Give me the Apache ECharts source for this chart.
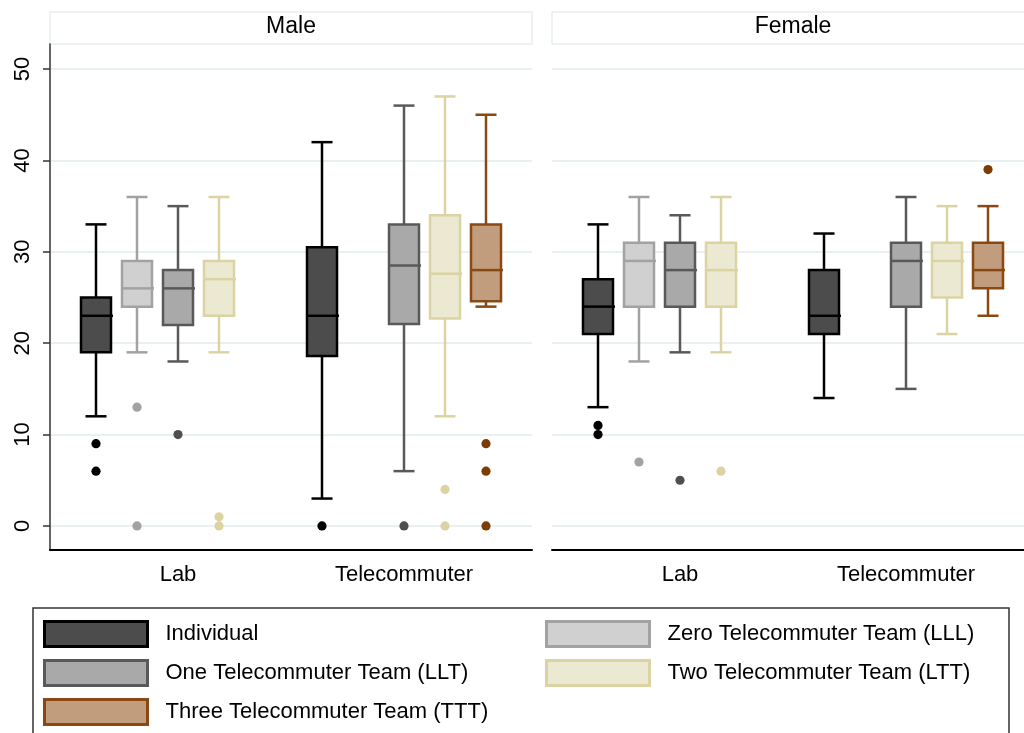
<!DOCTYPE html>
<html><head><meta charset="utf-8">
<script src="https://cdn.jsdelivr.net/npm/echarts@6/dist/echarts.min.js"></script>
<style>html,body{margin:0;padding:0;background:#fff}#chart{width:1024px;height:733px}</style>
</head><body><div id="chart"></div>
<script>
// ---------- data ----------
const panels = ['Male', 'Female'];
const conditions = ['Lab', 'Telecommuter'];
const groups = ['Individual', 'Zero Telecommuter Team (LLL)', 'One Telecommuter Team (LLT)',
                'Two Telecommuter Team (LTT)', 'Three Telecommuter Team (TTT)'];
const yTicks = [0, 10, 20, 30, 40, 50];
const xTicks = [0, 1];

// box rows: [panel, condition, lowerWhisker, q1, median, q3, upperWhisker]
const individualBoxes = [[0, 0, 12, 19, 23, 25, 33], [0, 1, 3, 18.6, 23, 30.5, 42],
                         [1, 0, 13, 21, 24, 27, 33], [1, 1, 14, 21, 23, 28, 32]];
const lllBoxes = [[0, 0, 19, 24, 26, 29, 36], [1, 0, 18, 24, 29, 31, 36]];
const lltBoxes = [[0, 0, 18, 22, 26, 28, 35], [0, 1, 6, 22.1, 28.5, 33, 46],
                  [1, 0, 19, 24, 28, 31, 34], [1, 1, 15, 24, 29, 31, 36]];
const lttBoxes = [[0, 0, 19, 23, 27, 29, 36], [0, 1, 12, 22.7, 27.6, 34, 47],
                  [1, 0, 19, 24, 28, 31, 36], [1, 1, 21, 25, 29, 31, 35]];
const tttBoxes = [[0, 1, 24, 24.6, 28, 33, 45], [1, 1, 23, 26, 28, 31, 35]];

// outlier rows: [panel, condition, value]
const individualOutliers = [[0, 0, 9], [0, 0, 6], [0, 1, 0], [1, 0, 11], [1, 0, 10]];
const lllOutliers = [[0, 0, 13], [0, 0, 0], [1, 0, 7]];
const lltOutliers = [[0, 0, 10], [0, 1, 0], [1, 0, 5]];
const lttOutliers = [[0, 0, 1], [0, 0, 0], [0, 1, 4], [0, 1, 0], [1, 0, 6]];
const tttOutliers = [[0, 1, 9], [0, 1, 6], [0, 1, 0], [1, 1, 39]];

// ---------- style ----------
const FONT = '"Liberation Sans", Arial, sans-serif';
const colors = [
  {fill: '#4c4c4c', border: '#000000', dot: '#000000'},
  {fill: '#d0d0d0', border: '#a2a2a2', dot: '#a2a2a2'},
  {fill: '#a9a9a9', border: '#595959', dot: '#4f4f4f'},
  {fill: '#ebe9d2', border: '#dbd4a2', dot: '#dbd4a2'},
  {fill: '#c29d7d', border: '#8a4812', dot: '#7c3d02'}
];
const boxData = [individualBoxes, lllBoxes, lltBoxes, lttBoxes, tttBoxes];
const outlierData = [individualOutliers, lllOutliers, lltOutliers, lttOutliers, tttOutliers];

const SLOT = 41 / 226, BOX_W = 30 / 226, CAP_W = 21 / 226, PAD = 128 / 226;
const GRIDS = [{left: 50, top: 44, width: 482, height: 506}, {left: 552, top: 44, width: 482, height: 506}];
const Y_MIN = -2.63, Y_MAX = 52.74;
const LW = 2.5;

function boxRenderer(slot, c) {
  return function (params, api) {
    const cond = api.value(0);
    const unit = api.size([1, 0])[0];
    const dx = (slot - 2) * SLOT * unit;
    const half = BOX_W * unit / 2, cap = CAP_W * unit / 2;
    const pts = [1, 2, 3, 4, 5].map(i => api.coord([cond, api.value(i)]));
    const x = pts[0][0] + dx;
    const yLw = pts[0][1], yQ1 = pts[1][1], yMed = pts[2][1], yQ3 = pts[3][1], yUw = pts[4][1];
    const line = (x1, y1, x2, y2) => ({type: 'line', shape: {x1, y1, x2, y2},
      style: {stroke: c.border, lineWidth: LW}});
    return {type: 'group', children: [
      line(x, yQ3, x, yUw), line(x - cap, yUw, x + cap, yUw),
      line(x, yQ1, x, yLw), line(x - cap, yLw, x + cap, yLw),
      {type: 'rect', shape: {x: x - half, y: yQ3, width: 2 * half, height: yQ1 - yQ3},
       style: {fill: c.fill, stroke: c.border, lineWidth: LW}},
      line(x - half, yMed, x + half + 2, yMed)
    ]};
  };
}
function dotRenderer(slot, c) {
  return function (params, api) {
    const unit = api.size([1, 0])[0];
    const p = api.coord([api.value(0), api.value(1)]);
    return {type: 'circle', shape: {cx: p[0] + (slot - 2) * SLOT * unit, cy: p[1], r: 4.6},
            style: {fill: c.dot}};
  };
}

const grid = [], xAxis = [], yAxis = [], series = [];
panels.forEach((name, p) => {
  grid.push(Object.assign({containLabel: false, outerBoundsMode: 'none'}, GRIDS[p]));
  xAxis.push({gridIndex: p, type: 'value', min: -PAD, max: 1 + PAD,
    axisLine: {show: true, onZero: false, lineStyle: {color: '#000', width: 2}},
    axisTick: {show: false}, splitLine: {show: false},
    axisLabel: {customValues: xTicks, formatter: v => conditions[Math.round(v)],
      fontSize: 22, color: '#000', margin: 14, fontFamily: FONT}});
  yAxis.push({gridIndex: p, type: 'value', min: Y_MIN, max: Y_MAX,
    axisLine: {show: p === 0, onZero: false, lineStyle: {color: '#333', width: 1.5}},
    axisTick: {show: p === 0, length: 7, customValues: yTicks, lineStyle: {color: '#333', width: 1.5}},
    axisLabel: {show: p === 0, customValues: yTicks, rotate: 90, fontSize: 22, color: '#000',
      margin: 16, fontFamily: FONT},
    splitLine: {show: true, lineStyle: {color: '#e9f0f2', width: 2}}});
  groups.forEach((g, gi) => {
    series.push({type: 'custom', name: g, xAxisIndex: p, yAxisIndex: p, z: 2,
      renderItem: boxRenderer(gi, colors[gi]), encode: {x: 0, y: [1, 2, 3, 4, 5]},
      itemStyle: {color: colors[gi].fill},
      data: boxData[gi].filter(r => r[0] === p).map(r => r.slice(1))});
    series.push({type: 'custom', name: g, xAxisIndex: p, yAxisIndex: p, z: 3,
      renderItem: dotRenderer(gi, colors[gi]), encode: {x: 0, y: 1},
      itemStyle: {color: colors[gi].fill},
      data: outlierData[gi].filter(r => r[0] === p).map(r => r.slice(1))});
  });
});

const legendItem = gi => ({name: groups[gi], icon: 'rect',
  itemStyle: {color: colors[gi].fill, borderColor: colors[gi].border, borderWidth: 3}});
const legendBase = {orient: 'vertical', top: 620, padding: 0, itemWidth: 103, itemHeight: 25, itemGap: 11,
  selectedMode: false,
  textStyle: {fontSize: 22, color: '#000', fontFamily: FONT, padding: [0, 0, 0, 13]}};

const graphic = [
  {type: 'rect', shape: {x: 33, y: 608, width: 976, height: 140}, style: {fill: 'none', stroke: '#333', lineWidth: 1.5}}
];
panels.forEach((name, p) => {
  const g = GRIDS[p];
  graphic.push({type: 'rect', shape: {x: g.left, y: 12, width: g.width, height: 32},
    style: {fill: '#fff', stroke: '#e8eff1', lineWidth: 1.5}});
  graphic.push({type: 'text', x: g.left + g.width / 2, y: 27,
    style: {text: name, fill: '#000', font: '23px ' + FONT, align: 'center', verticalAlign: 'middle'}});
});

const chart = echarts.init(document.getElementById('chart'), null, {renderer: 'canvas'});
chart.setOption({
  animation: false,
  backgroundColor: '#fff',
  grid, xAxis, yAxis, series, graphic,
  legend: [
    Object.assign({left: 43, data: [0, 2, 4].map(legendItem)}, legendBase),
    Object.assign({left: 545, data: [1, 3].map(legendItem)}, legendBase)
  ]
});
</script></body></html>
